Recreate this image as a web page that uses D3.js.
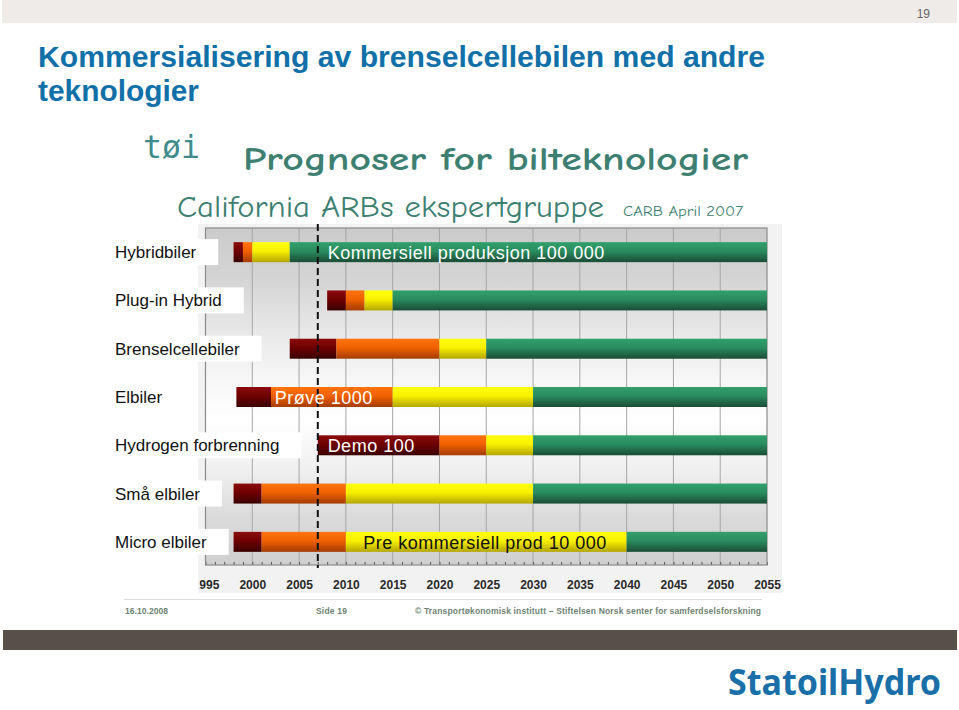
<!DOCTYPE html>
<html><head><meta charset="utf-8">
<script src="https://cdn.jsdelivr.net/npm/d3@7"></script>
<style>body{margin:0;background:#fff;} svg{display:block;}</style>
</head><body><svg id="c" width="959" height="710"></svg>
<script>
// ---------- data ----------
const categories = ["Hybridbiler","Plug-in Hybrid","Brenselcellebiler","Elbiler","Hydrogen forbrenning","Små elbiler","Micro elbiler"];
const phases = ["Demo","Prøve","Pre kommersiell","Kommersiell"];
const demoStart  = [1998, 2008, 2004, 1998.3, 2007, 1998, 1998];
const proveStart = [1999, 2010, 2009, 2002, 2020, 2001, 2001];
const preStart   = [2000, 2012, 2020, 2015, 2025, 2010, 2010];
const kommStart  = [2004, 2015, 2025, 2030, 2030, 2030, 2040];
const endYear    = [2055, 2055, 2055, 2055, 2055, 2055, 2055];
const tickYears  = [1995,2000,2005,2010,2015,2020,2025,2030,2035,2040,2045,2050,2055];
const todayYear  = 2007;
const annotations = [
  {category:"Hybridbiler", text:"Kommersiell produksjon 100 000", year:2008.05, dark:false},
  {category:"Elbiler", text:"Prøve 1000", year:2002.4, dark:false},
  {category:"Hydrogen forbrenning", text:"Demo 100", year:2008.05, dark:false},
  {category:"Micro elbiler", text:"Pre kommersiell prod 10 000", year:2011.85, dark:true}
];

// ---------- setup ----------
const svg = d3.select("#c");
const defs = svg.append("defs");
const phaseColors = {
  "Demo":["#8c0c0c","#6e0000","#3a0000"],
  "Prøve":["#ff7410","#f06000","#a43c00"],
  "Pre kommersiell":["#ffff10","#f8f000","#b4a600"],
  "Kommersiell":["#31a06c","#2a8c5e","#1a4c36"]
};
phases.forEach((p,i)=>{
  const g = defs.append("linearGradient").attr("id","pg"+i).attr("x1",0).attr("x2",0).attr("y1",0).attr("y2",1);
  g.append("stop").attr("offset","0").attr("stop-color",phaseColors[p][0]);
  g.append("stop").attr("offset","0.45").attr("stop-color",phaseColors[p][1]);
  g.append("stop").attr("offset","1").attr("stop-color",phaseColors[p][2]);
});
const bg = defs.append("linearGradient").attr("id","bg").attr("x1",0).attr("x2",0).attr("y1",0).attr("y2",1);
[[0,"#cbcbcb"],[0.15,"#d4d4d4"],[0.3,"#e7e7e7"],[0.45,"#f7f7f7"],[0.57,"#ffffff"],[0.72,"#efefef"],[0.86,"#dadada"],[1,"#cfcfcf"]]
  .forEach(s=>bg.append("stop").attr("offset",s[0]).attr("stop-color",s[1]));
defs.append("clipPath").attr("id","tickclip").append("rect").attr("x",199.5).attr("y",560).attr("width",600).attr("height",40);

const x = d3.scaleLinear().domain([1995,2055]).range([205.5,767]);
const y = d3.scaleBand().domain(categories).range([228,566]);
const plotTop = 228, plotBottom = 565;
const barH = 20;

// top band
svg.append("rect").attr("x",2).attr("y",0).attr("width",955).attr("height",23).attr("fill","#eeebe8");
svg.append("text").attr("x",930).attr("y",18).attr("text-anchor","end").attr("font-family","Liberation Sans, Arial").attr("font-size",12).attr("fill","#666").text("19");

// titles
const tf = "Liberation Sans Narrow, Liberation Sans, Arial";
svg.append("text").attr("x",38).attr("y",67).attr("font-family",tf).attr("font-weight","bold").attr("font-size",29)
  .attr("fill","#1170a8").attr("textLength",727).attr("lengthAdjust","spacingAndGlyphs").text("Kommersialisering av brenselcellebilen med andre");
svg.append("text").attr("x",38).attr("y",101).attr("font-family",tf).attr("font-weight","bold").attr("font-size",29)
  .attr("fill","#1170a8").attr("textLength",161).attr("lengthAdjust","spacingAndGlyphs").text("teknologier");

const cf = "Comic Sans MS, Comic Neue, DejaVu Sans";
svg.append("text").attr("x",143).attr("y",158).attr("font-family","DejaVu Sans Mono, DejaVu Sans").attr("font-size",32)
  .attr("fill","#3f8b8c").attr("textLength",57).attr("lengthAdjust","spacingAndGlyphs").text("tøi");
svg.append("text").attr("x",243).attr("y",170).attr("font-family",cf).attr("font-weight","bold").attr("font-size",33)
  .attr("fill","#3d8072").attr("textLength",505).attr("lengthAdjust","spacingAndGlyphs").text("Prognoser for bilteknologier");
svg.append("text").attr("x",177).attr("y",217).attr("font-family",cf).attr("font-size",30)
  .attr("fill","#3d8072").attr("textLength",427).attr("lengthAdjust","spacingAndGlyphs").text("California ARBs ekspertgruppe");
svg.append("text").attr("x",623).attr("y",216).attr("font-family",cf).attr("font-size",14)
  .attr("fill","#3d8072").attr("textLength",120).attr("lengthAdjust","spacingAndGlyphs").text("CARB April 2007");

// chart shadow/background
svg.append("rect").attr("x",198).attr("y",224).attr("width",584).attr("height",369).attr("fill","#f2f2f2");
svg.append("rect").attr("x",x(1995)).attr("y",plotTop).attr("width",x(2055)-x(1995)).attr("height",plotBottom-plotTop).attr("fill","url(#bg)");

// gridlines
svg.append("g").selectAll("line").data(tickYears.slice(1,-1)).join("line")
  .attr("x1",d=>x(d)).attr("x2",d=>x(d)).attr("y1",plotTop).attr("y2",plotBottom)
  .attr("stroke","#a6a6a6").attr("stroke-width",1);
// minor ticks
const years = d3.range(1995,2056);
svg.append("g").selectAll("line").data(years).join("line")
  .attr("x1",d=>x(d)+0.5).attr("x2",d=>x(d)+0.5).attr("y1",plotBottom-3).attr("y2",plotBottom)
  .attr("stroke","#555").attr("stroke-width",1);
// frame
svg.append("rect").attr("x",x(1995)).attr("y",plotTop).attr("width",x(2055)-x(1995)).attr("height",plotBottom-plotTop)
  .attr("fill","none").attr("stroke","#8a8a8a").attr("stroke-width",1.2);

// axis labels (clip applied on an untransformed wrapper)
const axis = d3.axisBottom(x).tickValues(tickYears).tickSize(0).tickFormat(d3.format("d"));
const aw = svg.append("g").attr("clip-path","url(#tickclip)");
const ag = aw.append("g").attr("transform",`translate(0,${plotBottom})`).call(axis);
ag.select(".domain").remove();
ag.selectAll("text").attr("font-family","Liberation Sans, Arial").attr("font-weight","bold").attr("font-size",12)
  .attr("fill","#2a2a2a").attr("dy",0).attr("y",24);

// category labels with white boxes
const lg = svg.append("g");
categories.forEach(c=>{
  const cy = y(c)+y.bandwidth()/2;
  const t = lg.append("text").attr("x",115).attr("y",cy+6).attr("font-family","Liberation Sans, Arial")
    .attr("font-size",17).attr("fill","#111").text(c);
  const w = t.node().getComputedTextLength();
  lg.insert("rect","text").attr("x",108).attr("y",cy-13).attr("width",w+7+22).attr("height",26).attr("fill","#fff");
});

// bars
const starts = [demoStart, proveStart, preStart, kommStart, endYear];
const segs = [];
categories.forEach((c,i)=>phases.forEach((p,j)=>segs.push({c, p, j, s:starts[j][i], e:starts[j+1][i]})));
svg.append("g").selectAll("rect").data(segs).join("rect")
  .attr("x",d=>x(d.s)).attr("width",d=>x(d.e)-x(d.s))
  .attr("y",d=>y(d.c)+y.bandwidth()/2-barH/2).attr("height",barH)
  .attr("fill",d=>`url(#pg${d.j})`);

// today dashed line
svg.append("line").attr("x1",x(todayYear)).attr("x2",x(todayYear)).attr("y1",224).attr("y2",568)
  .attr("stroke","#111").attr("stroke-width",2).attr("stroke-dasharray","7,4");

// annotations
svg.append("g").selectAll("text").data(annotations).join("text")
  .attr("x",d=>x(d.year)).attr("y",d=>y(d.category)+y.bandwidth()/2+7)
  .attr("font-family","Liberation Sans, Arial").attr("font-size",18).attr("letter-spacing",0.5)
  .attr("fill",d=>d.dark?"#111":"#fff").text(d=>d.text);

// footer
svg.append("line").attr("x1",124).attr("x2",762).attr("y1",599.5).attr("y2",599.5).attr("stroke","#dcdcdc");
const ff = "Liberation Sans, Arial";
svg.append("text").attr("x",125).attr("y",614).attr("font-family",ff).attr("font-weight","bold").attr("font-size",8.5)
  .attr("fill","#6f8374").attr("textLength",43).attr("lengthAdjust","spacing").text("16.10.2008");
svg.append("text").attr("x",316).attr("y",614).attr("font-family",ff).attr("font-weight","bold").attr("font-size",8.5)
  .attr("fill","#6f8374").attr("textLength",31).attr("lengthAdjust","spacing").text("Side 19");
svg.append("text").attr("x",415).attr("y",614).attr("font-family",ff).attr("font-weight","bold").attr("font-size",8.5)
  .attr("fill","#6f8374").attr("textLength",346).attr("lengthAdjust","spacing").text("© Transportøkonomisk institutt – Stiftelsen Norsk senter for samferdselsforskning");

svg.append("rect").attr("x",3).attr("y",630).attr("width",954).attr("height",20).attr("fill","#574f49");
svg.append("text").attr("x",728).attr("y",695).attr("font-family","Noto Sans, Open Sans, Liberation Sans").attr("font-weight","bold")
  .attr("font-size",36).attr("fill","#1a6fa8").attr("textLength",213).attr("lengthAdjust","spacingAndGlyphs").text("StatoilHydro");
</script></body></html>
